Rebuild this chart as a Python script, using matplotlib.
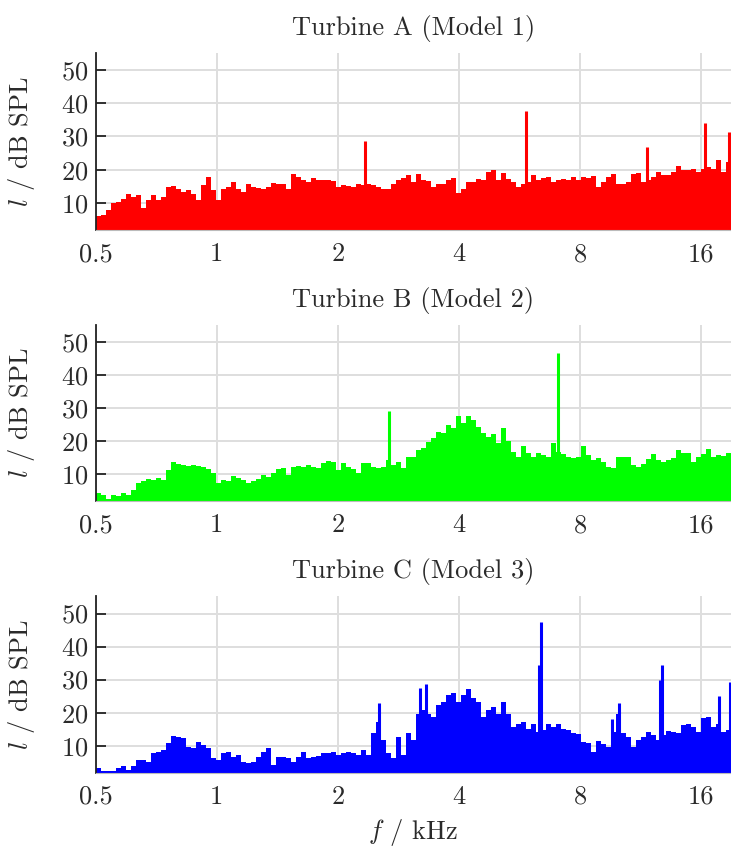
"""Sound pressure level spectra of three turbines (log2 frequency axis)."""

import matplotlib

matplotlib.use("Agg")
import matplotlib.pyplot as plt
import numpy as np

# frequency band edges of the read-off spectrum, kHz
F_MIN = 0.5
F_MAX = 19.0
N_BANDS = 127

TITLES = ["Turbine A (Model 1)", "Turbine B (Model 2)", "Turbine C (Model 3)"]
COLORS = ["#ff0000", "#00ff00", "#0000ff"]

X_TICKS = [0.5, 1, 2, 4, 8, 16]
X_TICK_LABELS = ["0.5", "1", "2", "4", "8", "16"]
Y_TICKS = [10, 20, 30, 40, 50]

# broadband level per band, dB SPL
level_a = [
    6.0, 6.3, 7.8, 9.8, 10.3, 11.3, 12.6, 11.8, 12.3, 8.3,
    11.0, 12.3, 11.0, 11.8, 14.8, 15.0, 14.3, 13.3, 14.0, 12.6,
    10.8, 15.3, 17.8, 13.8, 10.8, 14.3, 14.8, 16.3, 14.3, 13.3,
    15.6, 14.8, 14.6, 14.3, 14.8, 16.0, 15.6, 15.8, 14.3, 18.8,
    17.8, 17.0, 16.3, 17.6, 16.8, 16.8, 17.0, 16.6, 14.8, 15.3,
    15.0, 14.8, 15.6, 15.3, 15.6, 15.3, 14.8, 14.3, 14.3, 15.8,
    16.8, 17.6, 18.3, 16.3, 18.8, 16.8, 16.6, 14.8, 15.8, 15.6,
    17.0, 17.6, 13.0, 14.3, 16.3, 16.3, 17.3, 16.8, 19.3, 19.8,
    16.8, 19.0, 17.3, 16.3, 14.8, 15.8, 16.3, 18.3, 17.0, 17.6,
    17.8, 16.3, 16.8, 17.3, 16.8, 17.8, 16.8, 17.8, 17.6, 18.0,
    14.8, 16.3, 17.8, 18.8, 15.6, 15.6, 16.3, 18.8, 19.0, 16.3,
    16.8, 17.8, 19.3, 18.3, 18.3, 19.3, 21.0, 19.8, 19.8, 20.3,
    19.3, 20.3, 20.8, 20.3, 22.8, 19.3, 22.3,
]
level_b = [
    4.2, 3.7, 2.3, 3.7, 3.2, 4.2, 3.7, 5.2, 7.2, 7.7,
    8.4, 8.2, 8.7, 8.2, 11.2, 13.7, 13.0, 12.7, 12.4, 12.7,
    12.4, 12.2, 11.4, 10.2, 7.2, 8.0, 7.7, 9.4, 8.7, 8.2,
    7.2, 7.7, 8.4, 9.7, 9.2, 10.2, 11.4, 11.7, 9.7, 12.0,
    12.4, 12.2, 12.7, 12.2, 11.7, 13.2, 14.0, 13.7, 11.2, 13.2,
    12.2, 11.4, 10.2, 13.2, 13.2, 12.2, 11.7, 12.2, 14.2, 12.7,
    13.7, 11.7, 15.2, 15.2, 17.3, 17.8, 19.8, 20.8, 22.8, 22.3,
    24.8, 23.8, 27.5, 25.3, 27.5, 26.3, 24.3, 22.3, 21.3, 22.1,
    19.3, 23.8, 20.1, 16.7, 15.2, 18.3, 16.2, 15.2, 16.2, 15.7,
    15.2, 19.5, 16.7, 16.0, 15.2, 14.7, 15.2, 18.3, 15.7, 14.2,
    14.7, 13.7, 12.2, 11.7, 15.2, 15.0, 15.2, 12.7, 12.2, 13.0,
    14.4, 16.0, 14.2, 13.7, 14.2, 14.7, 17.3, 16.2, 16.2, 13.7,
    15.2, 16.0, 17.5, 15.2, 15.7, 15.4, 16.4,
]
level_c = [
    3.2, 2.2, 2.2, 2.2, 3.2, 3.7, 2.7, 3.7, 5.7, 5.7,
    5.2, 7.7, 8.2, 8.7, 10.7, 12.9, 12.5, 12.2, 9.7, 9.2,
    11.2, 10.2, 9.2, 6.2, 5.7, 7.7, 8.2, 6.7, 7.2, 5.2,
    4.7, 5.2, 6.7, 8.2, 9.2, 4.2, 6.7, 6.7, 6.2, 5.2,
    6.7, 8.2, 6.2, 6.7, 6.9, 7.7, 7.9, 8.2, 7.2, 7.7,
    8.2, 7.7, 7.2, 8.7, 7.2, 13.7, 17.2, 11.7, 7.7, 6.2,
    12.7, 7.2, 13.7, 11.7, 19.7, 20.8, 19.7, 18.7, 22.3, 23.3,
    25.3, 26.0, 23.3, 25.3, 27.3, 24.3, 23.3, 18.7, 20.8, 21.8,
    19.7, 23.3, 19.7, 15.7, 16.7, 17.2, 15.2, 16.5, 14.2, 14.7,
    16.7, 15.7, 16.5, 15.2, 14.7, 13.9, 13.5, 11.2, 10.9, 8.2,
    11.5, 10.5, 9.7, 14.2, 19.7, 13.7, 12.7, 9.7, 11.7, 12.7,
    14.2, 13.2, 11.7, 13.2, 14.5, 14.2, 13.9, 16.2, 16.7, 15.7,
    14.2, 18.5, 18.7, 15.7, 16.7, 14.2, 14.7,
]

# narrow tonal peaks: frequency (kHz) and level (dB SPL)
peak_freq_a = [2.33, 5.86, 11.72, 16.4, 18.8]
peak_level_a = [28.5, 37.8, 26.8, 34.0, 31.3]
peak_freq_b = [2.68, 7.06]
peak_level_b = [29.0, 46.5]
peak_freq_c = [2.53, 3.20, 3.32, 6.33, 6.40, 9.6, 10.0, 12.65, 12.8, 17.7, 18.9]
peak_level_c = [22.8, 27.6, 28.8, 34.3, 47.4, 18.2, 22.8, 29.8, 34.5, 25.0, 29.3]

LEVELS = [level_a, level_b, level_c]
PEAK_FREQS = [peak_freq_a, peak_freq_b, peak_freq_c]
PEAK_LEVELS = [peak_level_a, peak_level_b, peak_level_c]

plt.rcParams["font.family"] = "cmr10"
plt.rcParams["mathtext.fontset"] = "cm"
plt.rcParams["axes.formatter.use_mathtext"] = True

FONT_SIZE = 19
GRID_COLOR = "#dedede"
TEXT_COLOR = "#2a2a2a"

AXES_RECTS = [
    (0.131, 0.730, 0.869, 0.208),
    (0.131, 0.412, 0.869, 0.207),
    (0.131, 0.093, 0.869, 0.207),
]


def draw_panel(ax, levels, peak_freqs, peak_levels, color, title):
    edges = np.geomspace(F_MIN, F_MAX, N_BANDS + 1)
    ax.stairs(levels, edges, baseline=0, fill=True, color=color, lw=0)
    ax.vlines(peak_freqs, 0, peak_levels, color=color, lw=2.2)

    ax.set_xscale("log", base=2)
    ax.set_xlim(F_MIN, F_MAX)
    ax.set_ylim(1.8, 55.2)
    ax.set_xticks(X_TICKS)
    ax.set_xticklabels(X_TICK_LABELS)
    ax.xaxis.set_minor_locator(plt.NullLocator())
    ax.set_yticks(Y_TICKS)

    ax.grid(True, color=GRID_COLOR, lw=1.4)
    ax.set_axisbelow(True)
    for side in ("top", "right"):
        ax.spines[side].set_visible(False)
    ax.spines["left"].set_color("#222222")
    ax.spines["left"].set_linewidth(1.3)
    ax.spines["bottom"].set_color("#bbbbbb")
    ax.spines["bottom"].set_linewidth(0.8)

    ax.tick_params(axis="y", direction="in", length=7, width=1.3,
                   color="#222222", labelsize=FONT_SIZE, labelcolor=TEXT_COLOR, pad=5)
    ax.tick_params(axis="x", length=0, labelsize=FONT_SIZE, labelcolor=TEXT_COLOR, pad=9)

    ax.set_title(title, fontsize=FONT_SIZE, color=TEXT_COLOR, pad=13)
    ax.set_ylabel(r"$l$ / dB SPL", fontsize=FONT_SIZE, color=TEXT_COLOR)
    ax.yaxis.set_label_coords(-0.092, 0.5)


def main():
    fig = plt.figure(figsize=(7.31, 8.52), dpi=100)
    axes = [fig.add_axes(rect) for rect in AXES_RECTS]
    for ax, levels, pf, pl, color, title in zip(
        axes, LEVELS, PEAK_FREQS, PEAK_LEVELS, COLORS, TITLES
    ):
        draw_panel(ax, levels, pf, pl, color, title)
    axes[-1].set_xlabel(r"$f$ / kHz", fontsize=FONT_SIZE, color=TEXT_COLOR, labelpad=6)
    fig.savefig("out.png", dpi=100)


if __name__ == "__main__":
    main()
